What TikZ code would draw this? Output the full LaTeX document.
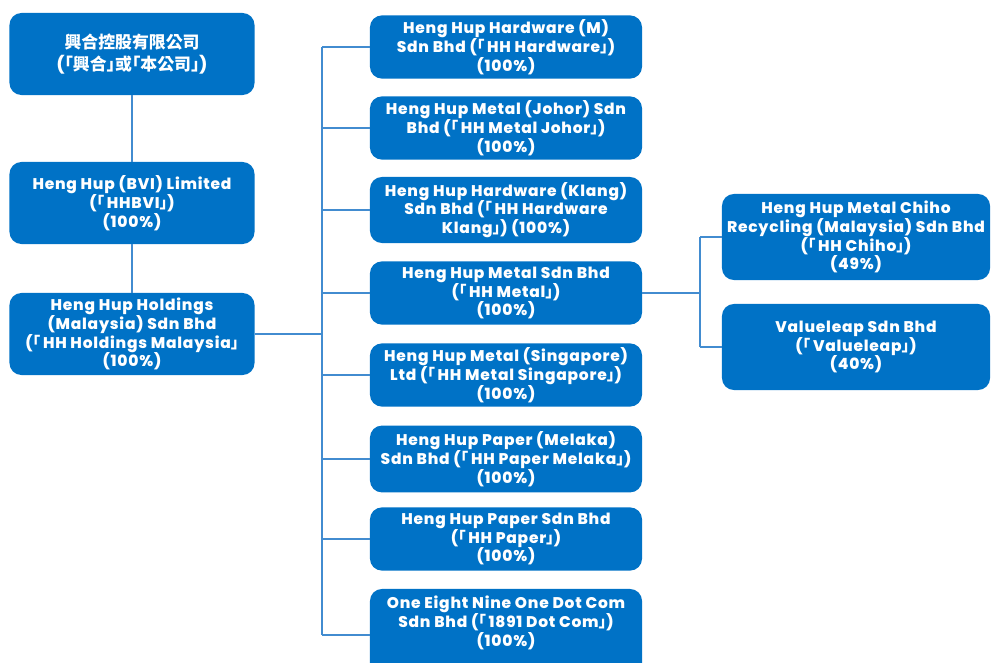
\documentclass[tikz,border=0pt]{standalone}
\usepackage{fontspec}
\usetikzlibrary{positioning}
\setmainfont{Poppins}[LetterSpace=5, BoldFont={Poppins ExtraBold}]
\newfontfamily\cjk{Noto Sans CJK TC}
\newcommand{\lqb}{{\cjk ｢}\,}
\newcommand{\rqb}{{\cjk ｣}}
\definecolor{cBox}{RGB}{0,114,198}
\definecolor{cLine}{RGB}{66,140,208}

\tikzset{
    box/.style={draw=none, fill=cBox, rounded corners=8.5pt, text=white, align=center,
        font=\bfseries\fontsize{11}{13.4}\selectfont, inner sep=0pt},
    leftbox/.style={box, minimum width=6.125cm, minimum height=2.05cm},
    midbox/.style={box, minimum width=6.8cm, minimum height=1.58cm},
    rightbox/.style={box, minimum width=6.7cm, minimum height=2.15cm},
    link/.style={draw=cLine, line width=0.8pt}
}

\begin{document}
\begin{tikzpicture}[x=0.025cm, y=-0.025cm]
        \useasboundingbox (0,0) rectangle (992,663);
        \clip (0,0) rectangle (992,663);

        % holding chain
        \node[leftbox, font=\bfseries\fontsize{12}{15}\selectfont] (hh) at (132,54) {{\cjk 興合控股有限公司}\\({\cjk ｢興合｣或｢本公司｣})};
        \node[leftbox] (bvi) at (132,203) {Heng Hup (BVI) Limited\\(\lqb HHBVI\rqb)\\(100\%)};
        \node[leftbox] (hold) at (132,334) {Heng Hup Holdings\\(Malaysia) Sdn Bhd\\(\lqb HH Holdings Malaysia\rqb\\(100\%)};
        \draw[link] (hh) -- (bvi);
        \draw[link] (bvi) -- (hold);

        % subsidiaries
        \node[midbox] (hw) at (506,47) {Heng Hup Hardware (M)\\Sdn Bhd (\lqb HH Hardware\rqb)\\(100\%)};
        \node[midbox] (johor) at (506,128) {Heng Hup Metal (Johor) Sdn\\Bhd (\lqb HH Metal Johor\rqb)\\(100\%)};
        \node[midbox, minimum height=1.65cm] (klang) at (506,210) {Heng Hup Hardware (Klang)\\Sdn Bhd (\lqb HH Hardware\\Klang\rqb) (100\%)};
        \node[midbox] (metal) at (506,293) {Heng Hup Metal Sdn Bhd\\(\lqb HH Metal\rqb)\\(100\%)};
        \node[midbox] (sing) at (506,375) {Heng Hup Metal (Singapore)\\Ltd (\lqb HH Metal Singapore\rqb)\\(100\%)};
        \node[midbox, minimum height=1.67cm] (melaka) at (506,459) {Heng Hup Paper (Melaka)\\Sdn Bhd (\lqb HH Paper Melaka\rqb)\\(100\%)};
        \node[midbox] (paper) at (506,539) {Heng Hup Paper Sdn Bhd\\(\lqb HH Paper\rqb)\\(100\%)};
        \node[midbox, minimum height=2.3cm] (dotcom) at (506,635) {One Eight Nine One Dot Com\\Sdn Bhd (\lqb 1891 Dot Com\rqb)\\(100\%)\\[6pt]};

        \coordinate (bus) at (322,334);
        \draw[link] (hold) -- (bus);
        \draw[link] (bus |- hw) -- (bus |- dotcom);
        \foreach \n in {hw,johor,klang,metal,sing,melaka,paper,dotcom}
            \draw[link] (bus |- \n) -- (\n);

        % associates
        \node[rightbox] (chiho) at (856,237) {Heng Hup Metal Chiho\\Recycling (Malaysia) Sdn Bhd\\(\lqb HH Chiho\rqb)\\(49\%)};
        \node[rightbox] (value) at (856,347) {Valueleap Sdn Bhd\\(\lqb Valueleap\rqb)\\(40\%)};

        \coordinate (bus2) at (700,293);
        \draw[link] (metal) -- (bus2);
        \draw[link] (bus2 |- chiho) -- (bus2 |- value);
        \draw[link] (bus2 |- chiho) -- (chiho);
        \draw[link] (bus2 |- value) -- (value);
    \end{tikzpicture}
\end{document}
